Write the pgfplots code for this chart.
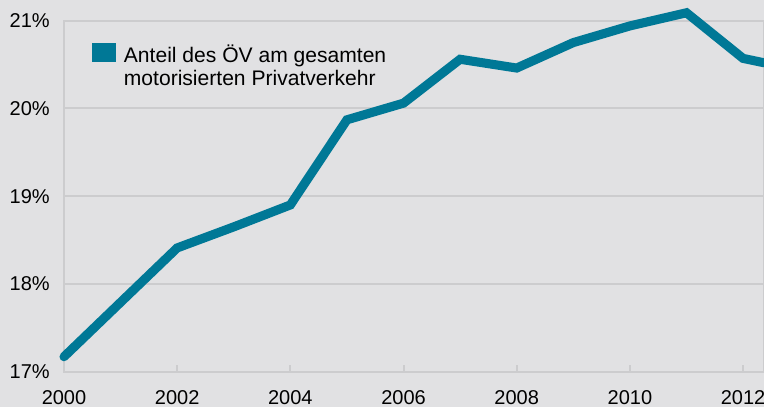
\documentclass[border=0pt]{standalone}
\usepackage{pgfplots}
\pgfplotsset{compat=1.18}
\usepackage{fontspec}
\setmainfont{Liberation Sans}
\usetikzlibrary{backgrounds}
\definecolor{bg}{RGB}{225,225,227}
\definecolor{gridc}{RGB}{204,204,206}
\definecolor{linec}{RGB}{0,120,150}
\begin{document}
\begin{tikzpicture}[background rectangle/.style={fill=bg,draw=none}, show background rectangle, inner frame sep=0pt]
\begin{axis}[
  name=ax,
  scale only axis,
  width=525pt, height=263.25pt,
  xmin=2000, xmax=2012.37,
  ymin=17, ymax=21,
  clip=false,
  axis line style={draw=gridc, line width=1.5pt},
  xtick={2000,2002,2004,2006,2008,2010,2012},
  xticklabels={2000,2002,2004,2006,2008,2010,2012},
  ytick={17,18,19,20,21},
  yticklabels={17\%,18\%,19\%,20\%,21\%},
  ymajorgrids,
  grid style={draw=gridc, line width=1.5pt},
  tick style={draw=gridc, line width=1.5pt},
  major tick length=5pt,
  xtick pos=bottom,
  ytick style={draw=none},
  ytick pos=left,
  tick label style={font=\fontsize{15pt}{18pt}\selectfont, text=black},
  yticklabel style={inner sep=0pt, xshift=-10.5pt},
  xticklabel style={inner sep=0pt, yshift=-14pt},
  /pgf/number format/assume math mode=true,
  legend style={at={(axis description cs:0,1)}, anchor=north west, draw=none, fill=none,
    xshift=18pt, yshift=-14pt, font=\fontsize{15.8pt}{17.4pt}\selectfont,
    nodes={align=left, inner sep=2pt}},
  legend cell align=left,
  legend image code/.code={\fill[linec, draw=none] (0pt,3.15pt) rectangle (18pt,17.4pt); \path[draw=none] (0pt,3.15pt) -- (21.75pt,3.15pt);},
]
\addplot[linec, line width=6.8pt, line join=miter, line cap=round] coordinates {
(2000,17.17) (2001,17.79) (2002,18.41) (2003,18.65) (2004,18.90)
(2005,19.87) (2006,20.06) (2007,20.56) (2008,20.46) (2009,20.75)
(2010,20.94) (2011,21.09) (2012,20.57) (2012.37,20.52)
};
\addlegendentry{Anteil des ÖV am gesamten\\motorisierten Privatverkehr}
\end{axis}
\pgfresetboundingbox
\path ([shift={(-48pt,-26.5pt)}]ax.south west) rectangle ([yshift=15.5pt]ax.north east);
\end{tikzpicture}
\end{document}
